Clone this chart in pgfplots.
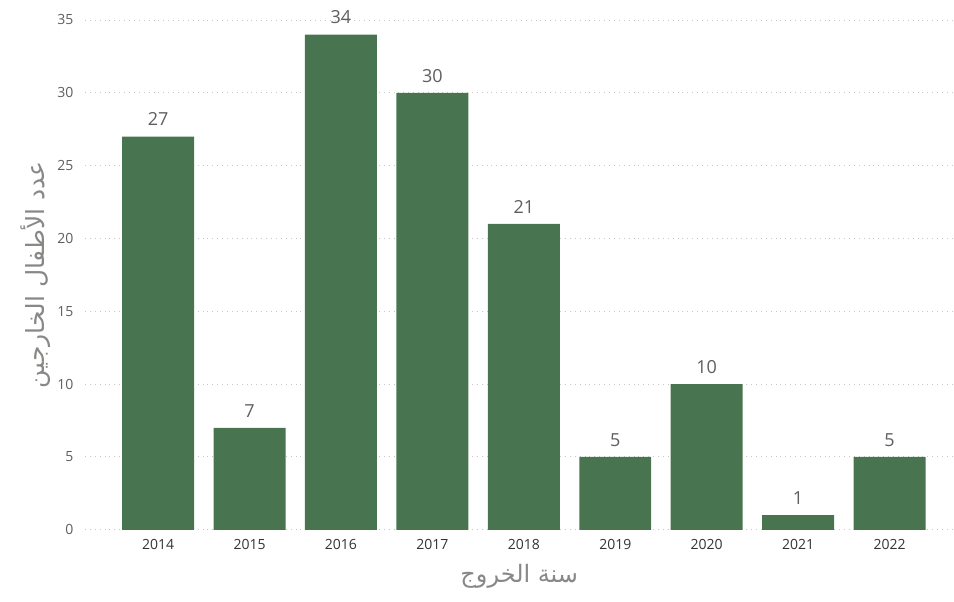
\documentclass[border=0pt]{standalone}
\usepackage{pgfplots}
\pgfplotsset{compat=1.18}
\usepackage{fontspec}
\setmainfont{Open Sans}
\newfontfamily\arabicfont[Script=Arabic]{DejaVu Sans}
\TeXXeTstate=1
\definecolor{barc}{HTML}{48754F}
\definecolor{tickc}{HTML}{605E5C}
\definecolor{titc}{HTML}{8A8886}
\definecolor{gridc}{HTML}{C8C6C4}
\begin{document}
\begin{tikzpicture}[x=1pt,y=1pt]
\begin{axis}[
  at={(0,0)}, anchor=south west,
  scale only axis, width=869pt, height=510pt,
  xmin=-0.8, xmax=8.7, ymin=0, ymax=35,
  ybar, bar width=72pt,
  axis line style={draw=none},
  major tick length=0pt,
  xtick=data,
  xticklabels={2014,2015,2016,2017,2018,2019,2020,2021,2022},
  ytick={0,5,...,35},
  ymajorgrids, grid style={gridc, line width=0.9pt, dash pattern=on 0.9pt off 4pt},
  /pgf/number format/assume math mode=true,
  xticklabel style={font=\fontsize{14}{16}\selectfont, text=black!80, yshift=-6pt},
  yticklabel style={font=\fontsize{14}{16}\selectfont, text=tickc, xshift=-8pt},
  nodes near coords,
  every node near coord/.append style={font=\fontsize{18}{21}\selectfont, text=tickc, yshift=7pt},
  clip=false,
  xlabel={\arabicfont\beginR سنة الخروج\endR},
  ylabel={\arabicfont\beginR عدد الأطفال الخارجين\endR},
  xlabel style={font=\fontsize{24}{27}\selectfont, text=titc, yshift=-8pt},
  ylabel style={font=\fontsize{25}{28}\selectfont, text=titc, yshift=0pt},
]
\addplot[fill=barc, draw=none] coordinates {
(0,27) (1,7) (2,34) (3,30) (4,21) (5,5) (6,10) (7,1) (8,5)};
\end{axis}
\useasboundingbox (-85,-72) rectangle (869,530);
\end{tikzpicture}
\end{document}
